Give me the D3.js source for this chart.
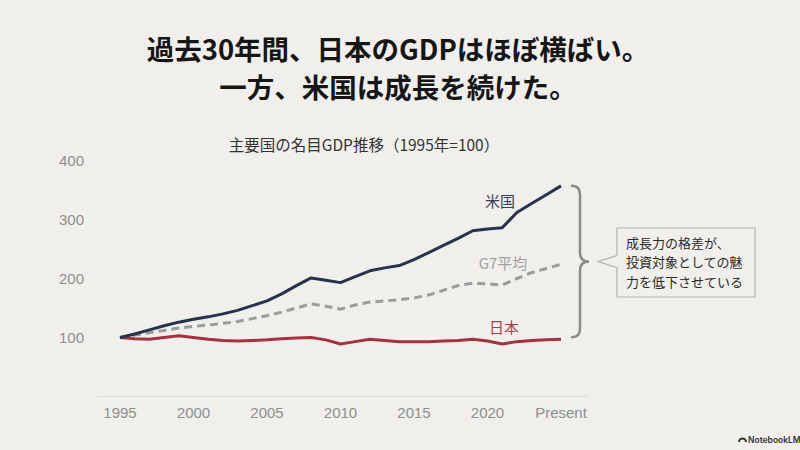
<!DOCTYPE html>
<html>
<head>
<meta charset="utf-8">
<script src="https://cdn.jsdelivr.net/npm/d3@7"></script>
<style>
  html, body { margin: 0; padding: 0; background: #f0efec; }
  svg { display: block; }
</style>
</head>
<body>
<script>
// Years 1995 .. 2025 (2025 shown as "Present")
const years = d3.range(1995, 2026)

// Nominal GDP index, 1995 = 100
const usValues = [100, 106, 113, 120, 126, 131, 135, 140, 146, 154, 162, 174, 188, 201, 197, 193,
  203, 213, 218, 222, 232, 244, 256, 268, 281, 284, 286, 312, 327, 342, 357]
const g7Values = [100, 104, 108, 112, 116, 119, 121, 124, 127, 132, 137, 143, 150, 157, 153, 148,
  155, 160, 162, 164, 167, 172, 180, 188, 192, 191, 189, 200, 210, 217, 224]
const japanValues = [100, 98, 97, 100, 103, 100, 97, 95, 94, 95, 96, 98, 99, 100, 96, 89,
  93, 97, 95, 93, 93, 93, 94, 95, 97, 94, 89, 93, 95, 96, 97]

const xTickYears = [1995, 2000, 2005, 2010, 2015, 2020, 2025]
const xTickLabels = ['1995', '2000', '2005', '2010', '2015', '2020', 'Present']
const yTicks = [100, 200, 300, 400]

const titleLines = ['過去30年間、日本のGDPはほぼ横ばい。', '一方、米国は成長を続けた。']
const subtitle = '主要国の名目GDP推移（1995年=100）'
const calloutLines = ['成長力の格差が、', '投資対象としての魅', '力を低下させている']

const colors = {
  bg: '#f0efec',
  title: '#161616',
  us: '#28324d',
  g7: '#9c9c9c',
  japan: '#a5333f',
  axis: '#dcdbd8',
  tick: '#8e8e8e',
  brace: '#8a8a8a',
  box: '#b3b3b3',
}

const jp = "'Noto Sans CJK JP', 'Noto Sans', sans-serif"
const num = "'Liberation Sans', Arial, sans-serif"

const width = 800, height = 450

const svg = d3.select('body').append('svg')
  .attr('width', width)
  .attr('height', height)
  .attr('viewBox', `0 0 ${width} ${height}`)

svg.append('rect').attr('width', width).attr('height', height).attr('fill', colors.bg)

// Title
titleLines.forEach((line, i) => {
  svg.append('text')
    .attr('x', 398).attr('y', 60 + i * 38)
    .attr('text-anchor', 'middle')
    .style('font-family', jp)
    .style('font-size', '27.5px')
    .style('font-weight', 700)
    .style('fill', colors.title)
    .text(line)
})

// Subtitle
svg.append('text')
  .attr('x', 364).attr('y', 151)
  .attr('text-anchor', 'middle')
  .style('font-family', jp)
  .style('font-size', '15.5px')
  .style('fill', '#333')
  .text(subtitle)

// Scales
const x = d3.scaleLinear().domain([1995, 2025]).range([120, 561])
const y = d3.scaleLinear().domain([0, 400]).range([396.5, 160.5])

// Baseline
svg.append('line')
  .attr('x1', 97).attr('x2', 587)
  .attr('y1', y(0)).attr('y2', y(0))
  .attr('stroke', colors.axis).attr('stroke-width', 1)

// X tick labels
xTickYears.forEach((yr, i) => {
  svg.append('text')
    .attr('x', x(yr)).attr('y', 418)
    .attr('text-anchor', 'middle')
    .style('font-family', num)
    .style('font-size', '15px')
    .style('fill', colors.tick)
    .text(xTickLabels[i])
})

// Y tick labels
yTicks.forEach(t => {
  svg.append('text')
    .attr('x', 84).attr('y', y(t) + 5.5)
    .attr('text-anchor', 'end')
    .style('font-family', num)
    .style('font-size', '15px')
    .style('fill', colors.tick)
    .text(t)
})

// Lines
const line = d3.line()
  .x((d, i) => x(years[i]))
  .y(d => y(d))

svg.append('path').datum(g7Values)
  .attr('d', line)
  .attr('fill', 'none')
  .attr('stroke', colors.g7)
  .attr('stroke-width', 3)
  .attr('stroke-dasharray', '8,5')

svg.append('path').datum(japanValues)
  .attr('d', line)
  .attr('fill', 'none')
  .attr('stroke', colors.japan)
  .attr('stroke-width', 3)
  .attr('stroke-linejoin', 'round')

svg.append('path').datum(usValues)
  .attr('d', line)
  .attr('fill', 'none')
  .attr('stroke', colors.us)
  .attr('stroke-width', 3)
  .attr('stroke-linejoin', 'round')

// Series labels
const labels = [
  { text: '米国', x: 500, y: 207, fill: '#37405a' },
  { text: 'G7平均', x: 503, y: 269, fill: '#a2a2a2' },
  { text: '日本', x: 504, y: 333, fill: '#ad3a46' },
]
labels.forEach(l => {
  svg.append('text')
    .attr('x', l.x).attr('y', l.y)
    .attr('text-anchor', 'middle')
    .style('font-family', jp)
    .style('font-size', '15px')
    .style('fill', l.fill)
    .text(l.text)
})

// Brace spanning the end values
const braceTop = y(usValues[usValues.length - 1])
const braceBottom = y(japanValues[japanValues.length - 1]) - 2
const braceMid = (braceTop + braceBottom) / 2
const bx = 580
svg.append('path')
  .attr('d', `M572,${braceTop} Q${bx},${braceTop} ${bx},${braceTop + 9} L${bx},${braceMid - 9} Q${bx},${braceMid} ${bx + 9},${braceMid}` +
    ` Q${bx},${braceMid} ${bx},${braceMid + 9} L${bx},${braceBottom - 9} Q${bx},${braceBottom} 572,${braceBottom}`)
  .attr('fill', 'none')
  .attr('stroke', colors.brace)
  .attr('stroke-width', 2.5)
  .attr('stroke-linecap', 'round')

// Callout box
svg.append('path')
  .attr('d', `M617,228 H755 V297 H617 V${braceMid + 6} L598,${braceMid} L617,${braceMid - 6} Z`)
  .attr('fill', colors.bg)
  .attr('stroke', colors.box)
  .attr('stroke-width', 1.2)

calloutLines.forEach((t, i) => {
  svg.append('text')
    .attr('x', 626).attr('y', 248 + i * 19.3)
    .style('font-family', jp)
    .style('font-size', '13px')
    .style('fill', '#2a2a2a')
    .text(t)
})

// NotebookLM mark
const logo = svg.append('g').attr('transform', 'translate(738, 435)')
logo.append('path')
  .attr('d', 'M0,7 A4.5,4.5 0 0 1 9,7 L7,7 A2.5,2.5 0 0 0 2,7 Z')
  .attr('fill', '#333')
logo.append('text')
  .attr('x', 10).attr('y', 7.5)
  .style('font-family', "'Inter', 'Liberation Sans', sans-serif")
  .style('font-size', '8.5px')
  .style('font-weight', 600)
  .style('fill', '#333')
  .text('NotebookLM')
</script>
</body>
</html>
